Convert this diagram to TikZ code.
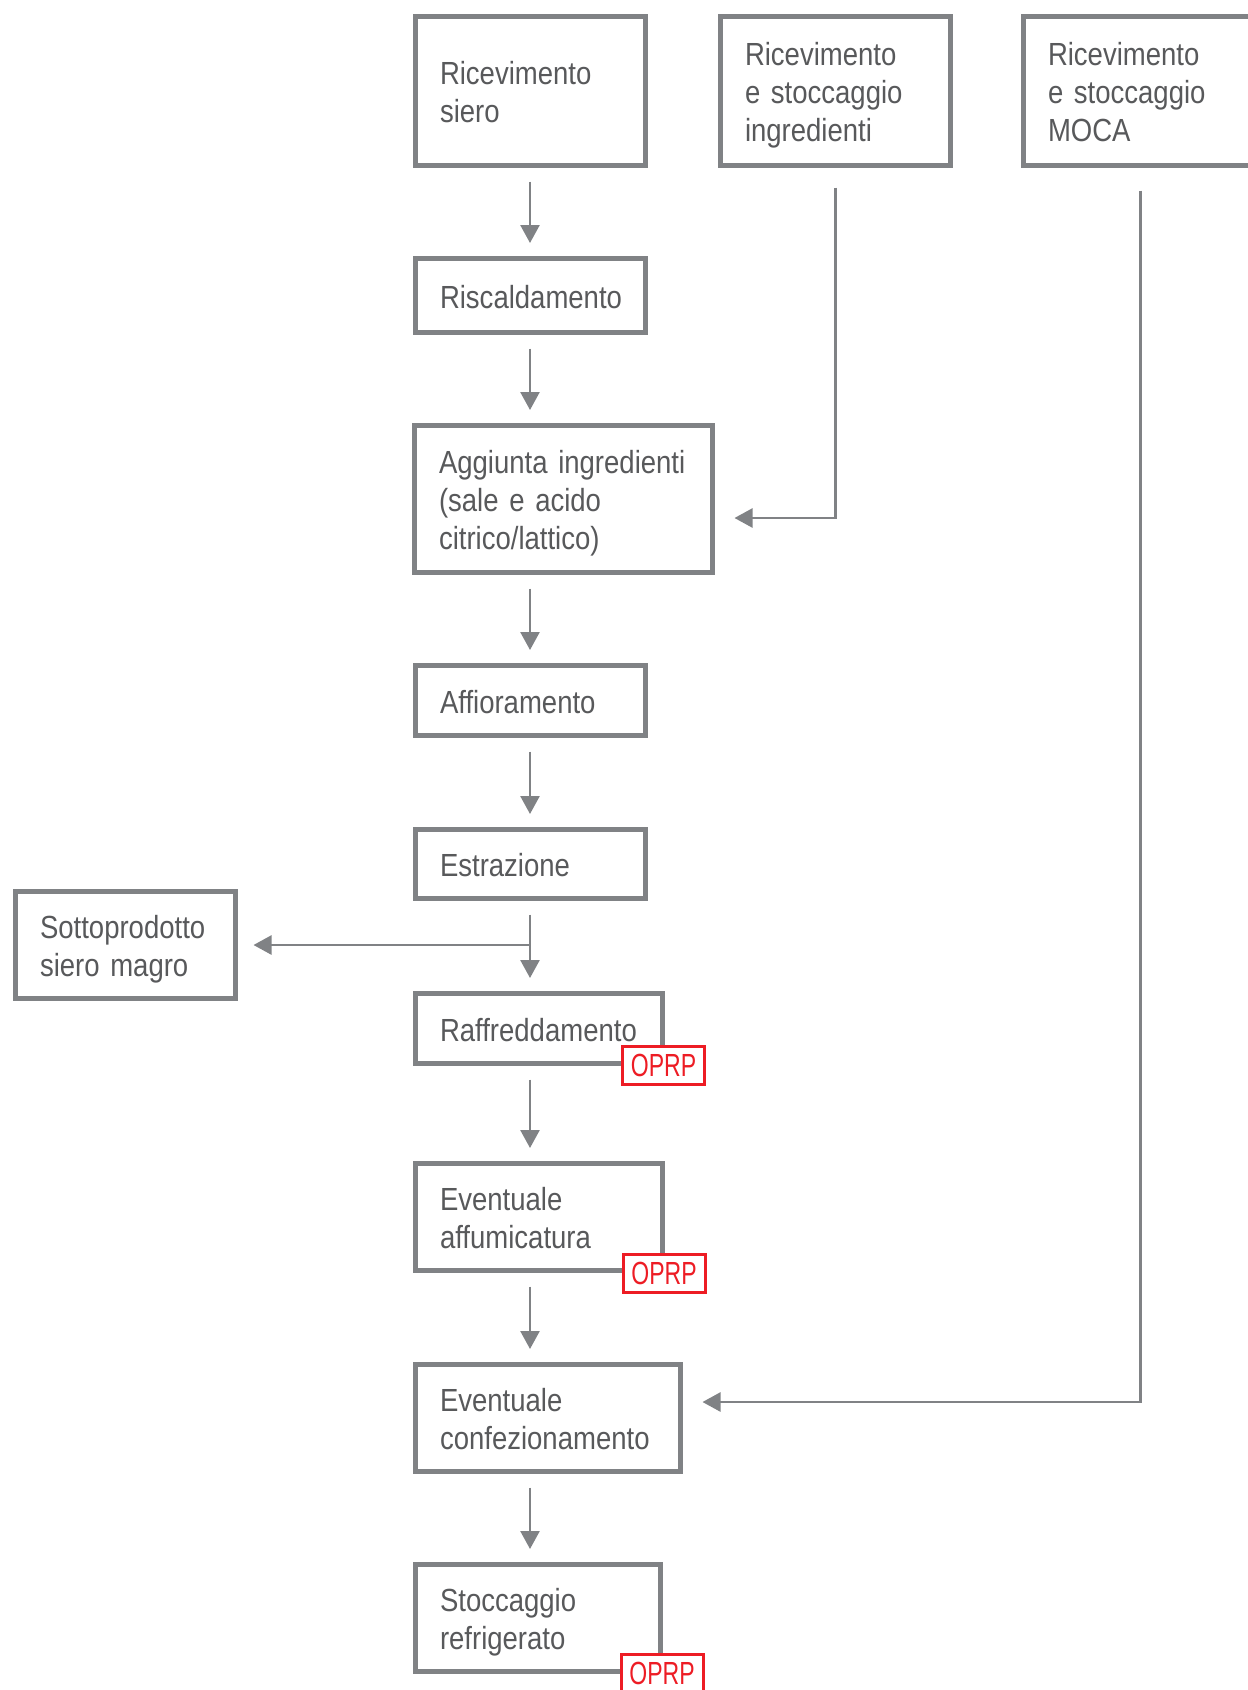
\documentclass[tikz,border=0pt]{standalone}
\usepackage{fontspec}
\setmainfont{Liberation Sans}[FakeStretch=0.86, WordSpace=0.8]
\newfontfamily\tagfont{Liberation Sans}[FakeStretch=0.72]
\usetikzlibrary{arrows.meta}

\definecolor{linegray}{HTML}{808285}
\definecolor{textgray}{HTML}{58595B}
\definecolor{tagred}{HTML}{ED1C24}

\tikzset{
  stepbox/.style={draw=linegray, line width=5pt, fill=white, align=left,
    inner xsep=24.5pt, inner ysep=0pt, text=textgray,
    font=\fontsize{32}{37.7}\selectfont},
  tagbox/.style={draw=tagred, line width=3pt, fill=white, text=tagred,
    inner sep=0pt, minimum width=82pt, minimum height=38pt,
    font=\tagfont\fontsize{32}{32}\selectfont},
  flow/.style={draw=linegray, line width=2.5pt,
    -{Triangle[length=18pt,width=19pt]}},
  down/.style={flow, shorten <=13.5pt, shorten >=13pt}
}

% box from outer corners: name, left, top, right, bottom, lines of text
\newcommand\flowbox[6]{%
  \pgfmathsetmacro\boxw{#4-#2-5}%
  \pgfmathsetmacro\boxh{#5-#3-5}%
  \pgfmathsetmacro\boxt{\boxw-49}%
  \node[stepbox, minimum width=\boxw pt, minimum height=\boxh pt,
        text width=\boxt pt] (#1) at ({(#2+#4)/2},{(#3+#5)/2})
    {\raisebox{-5pt}[\height][\depth]{\begin{tabular}{@{}l@{}}#6\end{tabular}}};}

% OPRP tag from outer corners: name, left, top, right, bottom
\newcommand\tagnode[5]{%
  \node[tagbox] (#1) at ({(#2+#4)/2},{(#3+#5)/2}) {OPRP};}

\begin{document}
\begin{tikzpicture}[x=1pt, y=-1pt]
  \useasboundingbox (0,0) rectangle (1248,1690);
  \clip (0,0) rectangle (1248,1690);

  \coordinate (spine) at (530,0);
  \coordinate (ingredY) at (0,518);
  \coordinate (mocaY) at (0,1402);

  \flowbox{siero}{413}{14}{648}{168}{Ricevimento\\siero}
  \flowbox{ingred}{718}{14}{953}{168}{Ricevimento\\e stoccaggio\\ingredienti}
  \flowbox{moca}{1021}{14}{1260}{168}{Ricevimento\\e stoccaggio\\MOCA}
  \flowbox{risc}{413}{256}{648}{335}{Riscaldamento}
  \flowbox{aggiunta}{412}{423}{715}{575}{Aggiunta ingredienti\\(sale e acido\\citrico/lattico)}
  \flowbox{affior}{413}{663}{648}{738}{Affioramento}
  \flowbox{estraz}{413}{827}{648}{901}{Estrazione}
  \flowbox{sotto}{13}{889}{238}{1001}{Sottoprodotto\\siero magro}
  \flowbox{raffr}{413}{991}{665}{1066}{Raffreddamento}
  \flowbox{affum}{413}{1161}{665}{1273}{Eventuale\\affumicatura}
  \flowbox{confez}{413}{1362}{683}{1474}{Eventuale\\confezionamento}
  \flowbox{stocc}{413}{1562}{663}{1674}{Stoccaggio\\refrigerato}

  \tagnode{tagRaffr}{621}{1045}{706}{1086}
  \tagnode{tagAffum}{621}{1253}{707}{1293}
  \tagnode{tagStocc}{619}{1652}{705}{1695}

  % main line of the process
  \draw[down] (siero.south -| spine) -- (risc.north -| spine);
  \draw[down] (risc.south -| spine) -- (aggiunta.north -| spine);
  \draw[down] (aggiunta.south -| spine) -- (affior.north -| spine);
  \draw[down] (affior.south -| spine) -- (estraz.north -| spine);
  \draw[down] (estraz.south -| spine) -- (raffr.north -| spine);
  \draw[down] (raffr.south -| spine) -- (affum.north -| spine);
  \draw[down] (affum.south -| spine) -- (confez.north -| spine);
  \draw[down] (confez.south -| spine) -- (stocc.north -| spine);

  % side inputs and by-product
  \draw[flow, shorten <=19.5pt, shorten >=19.5pt]
    (ingred.south) |- (aggiunta.east |- ingredY);
  \draw[flow, shorten <=22.5pt, shorten >=19.5pt]
    (moca.south) |- (confez.east |- mocaY);
  \draw[flow, shorten >=15.5pt] (sotto.east -| spine) -- (sotto.east);
\end{tikzpicture}
\end{document}
